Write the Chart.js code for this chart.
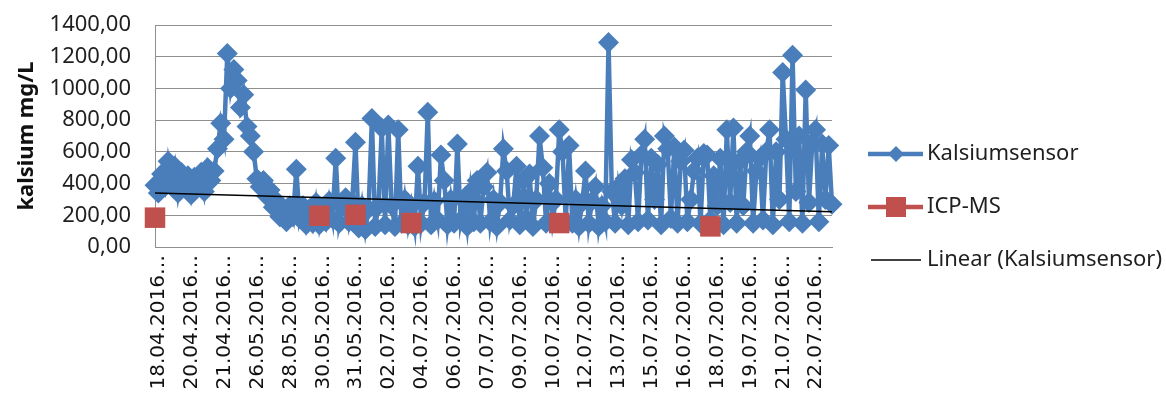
<!DOCTYPE html>
<html>
<head>
<meta charset="utf-8">
<script src="https://cdn.jsdelivr.net/npm/chart.js@4.4.1/dist/chart.umd.min.js"></script>
<style>
  body { margin: 0; background: #fff; }
</style>
</head>
<body>
<canvas id="kalsium" width="1166" height="401"></canvas>
<script>
// tick labels shown on the x axis (every 10th reading)
var tickLabels = ['18.04.2016…', '20.04.2016…', '21.04.2016…', '26.05.2016…', '28.05.2016…',
  '30.05.2016…', '31.05.2016…', '02.07.2016…', '04.07.2016…', '06.07.2016…', '07.07.2016…',
  '09.07.2016…', '10.07.2016…', '12.07.2016…', '13.07.2016…', '15.07.2016…', '16.07.2016…',
  '18.07.2016…', '19.07.2016…', '21.07.2016…', '22.07.2016…'];

// Kalsiumsensor readings, mg/L
var kalsiumsensor = [
  390, 340, 460, 380, 540, 420, 510, 340, 470, 400,
  450, 330, 440, 380, 470, 350, 500, 420, 480, 620,
  780, 680, 1220, 1000, 1120, 1050, 880, 960, 760, 700,
  600, 430, 380, 420, 320, 360, 250, 290, 190, 240,
  160, 260, 190, 490, 180, 260, 140, 240, 150, 280,
  140, 250, 160, 290, 180, 560, 150, 250, 310, 160,
  280, 660, 120, 260, 110, 240, 810, 130, 260, 750,
  140, 770, 260, 130, 740, 150, 300, 140, 260, 130,
  510, 150, 280, 850, 140, 290, 170, 580, 420, 140,
  300, 150, 650, 170, 290, 130, 350, 160, 420, 150,
  380, 470, 160, 300, 130, 280, 620, 480, 170, 260,
  510, 140, 420, 180, 460, 130, 300, 700, 500, 150,
  400, 170, 300, 740, 600, 160, 640, 150, 300, 130,
  280, 480, 150, 290, 380, 130, 260, 160, 1290, 350,
  150, 380, 260, 430, 140, 550, 470, 160, 580, 680,
  170, 560, 300, 520, 140, 700, 620, 180, 630, 150,
  540, 610, 160, 300, 480, 560, 150, 590, 580, 170,
  450, 260, 560, 140, 740, 280, 750, 150, 540, 260,
  600, 700, 150, 480, 560, 170, 600, 740, 140, 600,
  300, 1100, 680, 160, 1210, 350, 700, 150, 990, 280,
  660, 740, 160, 650, 300, 640, 270
];

// ICP-MS lab samples: reading index and value
var icpIndex = [0, 50, 61, 78, 123, 169];
var icpValues = [185, 197, 203, 151, 151, 130];

// Linear (Kalsiumsensor) trend, start and end
var trendIndex = [0, 206];
var trendValues = [340, 222];

var blue = '#4a7ebb';
var red = '#c0504d';

var sensorPts = kalsiumsensor.map(function(v, i) { return { x: i, y: v }; });
var icpPts = icpIndex.map(function(v, i) { return { x: v, y: icpValues[i] }; });
var trendPts = trendIndex.map(function(v, i) { return { x: v, y: trendValues[i] }; });

/* legend drawn on the right, Excel style */
var sideLegend = {
  id: 'sideLegend',
  afterDraw: function(chart) {
    var ctx = chart.ctx;
    ctx.save();
    ctx.font = '22px "Noto Sans"';
    ctx.textBaseline = 'middle';
    ctx.fillStyle = '#1f1f1f';

    // Kalsiumsensor
    ctx.strokeStyle = blue;
    ctx.lineWidth = 4.5;
    ctx.beginPath(); ctx.moveTo(868, 154); ctx.lineTo(923, 154); ctx.stroke();
    ctx.fillStyle = blue;
    ctx.beginPath();
    ctx.moveTo(896, 146); ctx.lineTo(904, 154); ctx.lineTo(896, 162); ctx.lineTo(888, 154);
    ctx.closePath(); ctx.fill();
    ctx.fillStyle = '#1f1f1f';
    ctx.fillText('Kalsiumsensor', 927, 154);

    // ICP-MS
    ctx.strokeStyle = red;
    ctx.beginPath(); ctx.moveTo(868, 207); ctx.lineTo(923, 207); ctx.stroke();
    ctx.fillStyle = red;
    ctx.fillRect(886, 197, 20, 20);
    ctx.fillStyle = '#1f1f1f';
    ctx.fillText('ICP-MS', 927, 207);

    // trend
    ctx.strokeStyle = '#000';
    ctx.lineWidth = 1.3;
    ctx.beginPath(); ctx.moveTo(871, 260); ctx.lineTo(921, 260); ctx.stroke();
    ctx.fillText('Linear (Kalsiumsensor)', 927, 260);
    ctx.restore();
  }
};

var ctx = document.getElementById('kalsium');
var chart = new Chart(ctx, {
  type: 'line',
  data: {
    datasets: [{
      label: 'Kalsiumsensor',
      data: sensorPts,
      borderColor: blue,
      backgroundColor: blue,
      borderWidth: 4.5,
      pointStyle: 'rectRot',
      pointRadius: 10.5,
      pointBorderWidth: 0,
      pointBackgroundColor: blue,
      tension: 0,
      clip: false,
      order: 3
    }, {
      label: 'ICP-MS',
      data: icpPts,
      showLine: false,
      borderColor: red,
      backgroundColor: red,
      pointStyle: 'rect',
      pointRadius: 14.5,
      pointBorderWidth: 0,
      pointBackgroundColor: red,
      clip: false,
      order: 2
    }, {
      label: 'Linear (Kalsiumsensor)',
      data: trendPts,
      borderColor: '#000',
      borderWidth: 1.5,
      pointRadius: 0,
      order: 1
    }]
  },
  options: {
    responsive: false,
    devicePixelRatio: 1,
    animation: false,
    layout: { autoPadding: false, padding: { left: 14, right: 334, top: 25, bottom: 5 } },
    plugins: {
      legend: { display: false },
      tooltip: { enabled: false }
    },
    scales: {
      x: {
        type: 'linear',
        min: 0,
        max: 206,
        offset: false,
        grid: { display: false, drawTicks: false },
        border: { display: true, color: '#8f8f8f' },
        ticks: {
          stepSize: 10,
          autoSkip: false,
          includeBounds: false,
          maxRotation: 90,
          minRotation: 90,
          padding: 8,
          labelOffset: 4,
          color: '#111',
          font: { family: '"DejaVu Sans"', size: 20 },
          callback: function(v) { return v % 10 === 0 ? tickLabels[v / 10] : ''; }
        },
        afterFit: function(scale) {
          scale.height = 149;
          scale.paddingLeft = 0;
          scale.paddingRight = 0;
        }
      },
      y: {
        min: 0,
        max: 1400,
        grid: { color: '#8f8f8f', drawTicks: false },
        border: { display: true, color: '#8f8f8f' },
        ticks: {
          stepSize: 200,
          padding: 24,
          color: '#1f1f1f',
          font: { family: '"Noto Sans"', size: 22 },
          callback: function(v) { return v.toFixed(2).replace('.', ','); }
        },
        title: {
          display: true,
          text: 'kalsium mg/L',
          color: '#111',
          font: { family: '"Noto Sans"', size: 22, weight: 'bold' },
          padding: { top: 0, bottom: 0 }
        },
        afterFit: function(scale) {
          scale.width = 141;
          scale.paddingTop = 0;
          scale.paddingBottom = 0;
        }
      }
    }
  },
  plugins: [sideLegend]
});
</script>
</body>
</html>
